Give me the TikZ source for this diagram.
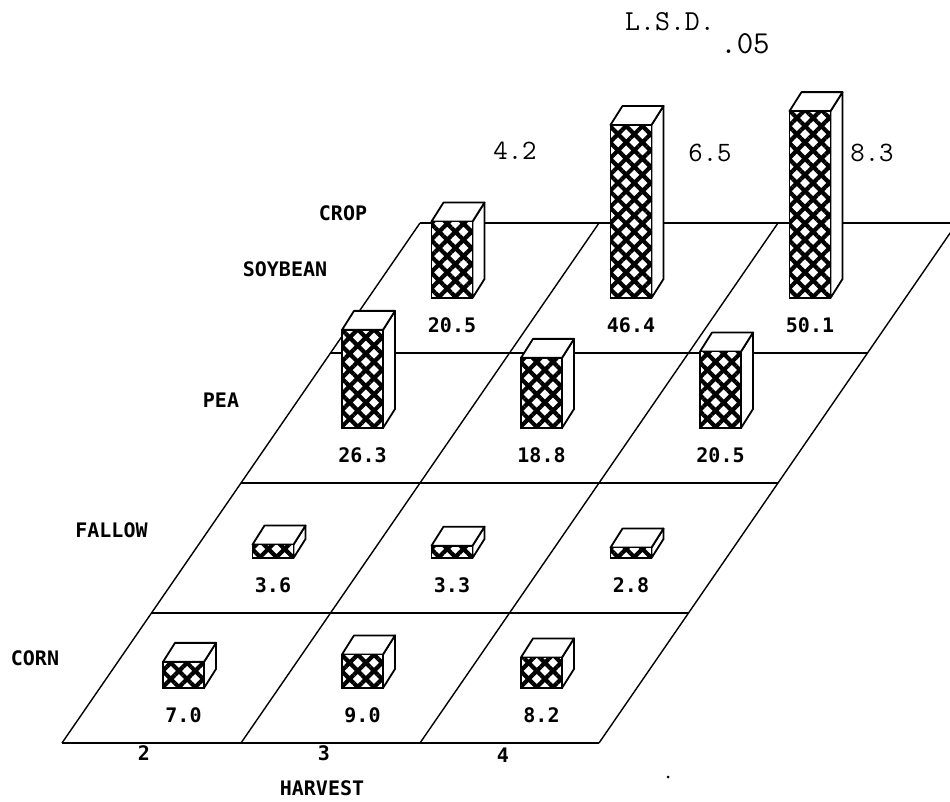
\documentclass[tikz,border=0pt]{standalone}
\usepackage{fontspec}
\newfontfamily\plotterfont{DejaVu Sans Mono}
\usetikzlibrary{patterns.meta}

\begin{document}
\begin{tikzpicture}[x=1pt,y=1pt]
  \tikzstyle{tag}=[font=\plotterfont\bfseries\fontsize{20}{20}\selectfont, inner sep=0pt];
  \tikzstyle{lsd}=[font=\ttfamily\fontsize{28}{28}\selectfont, inner sep=0pt];
  \tikzstyle{front}=[draw, line width=1.8pt, preaction={fill=white}, pattern={Hatch[angle=45,distance=11.5pt,line width=4.2pt]}];
  \tikzstyle{face}=[draw, line width=1.8pt, fill=white, line join=round];
  \useasboundingbox (-62,-58) rectangle (888,743);

  % floor grid
  \begin{scope}[x={(179pt,0pt)}, y={(89.5pt,130pt)}, line width=1.4pt]
    \foreach \j in {0,...,4} \draw (0,\j) -- (3,\j);
    \foreach \i in {0,...,3} \draw (\i,0) -- (\i,4);
  \end{scope}

  % bars, back row first
  \foreach \i/\j/\v in {0/3/20.5, 1/3/46.4, 2/3/50.1, 0/2/26.3, 1/2/18.8, 2/2/20.5,
                        0/1/3.6, 1/1/3.3, 2/1/2.8, 0/0/7.0, 1/0/9.0, 2/0/8.2}{
    \pgfmathsetmacro\h{3.73*\v}
    \coordinate (bar\i\j) at ({179*\i+89.5*\j+101},{130*\j+55});
    \draw[face] (bar\i\j) ++(41,0) -- ++(12,19) -- ++(0,\h) -- ++(-12,-19) -- cycle;
    \draw[face] (bar\i\j) ++(0,\h) -- ++(12,19) -- ++(41,0) -- ++(-12,-19) -- cycle;
    \draw[front] (bar\i\j) rectangle ++(41,\h);
    \node[tag] (val\i\j) at ([shift={(20.5,-27)}]bar\i\j) {\v};
  }

  \node[tag] (crop) at (281,530) {CROP};
  \node[tag] (soybean) at (223,474) {SOYBEAN};
  \node[tag] (pea) at (159,343) {PEA};
  \node[tag] (fallow) at (49.5,213) {FALLOW};
  \node[tag] (corn) at (-27,85) {CORN};
  \node[tag] (harvest) at (260,-45) {HARVEST};
  \node[tag] (h2) at (82,-10) {2};
  \node[tag] (h3) at (262,-10) {3};
  \node[tag] (h4) at (441,-12) {4};

  \node[lsd] (lsd1) at (453,592) {4.2};
  \node[lsd] (lsd2) at (648,590) {6.5};
  \node[lsd] (lsd3) at (810,590) {8.3};
  \node[font=\ttfamily\fontsize{29}{29}\selectfont, inner sep=0pt] (lsdhead) at (608,721) {L.S.D.};
  \node[font=\ttfamily\fontsize{32}{32}\selectfont, inner sep=0pt] (lsdlevel) at (683,699) {.05};
  \fill (606,-34) circle (1.5);
\end{tikzpicture}
\end{document}
